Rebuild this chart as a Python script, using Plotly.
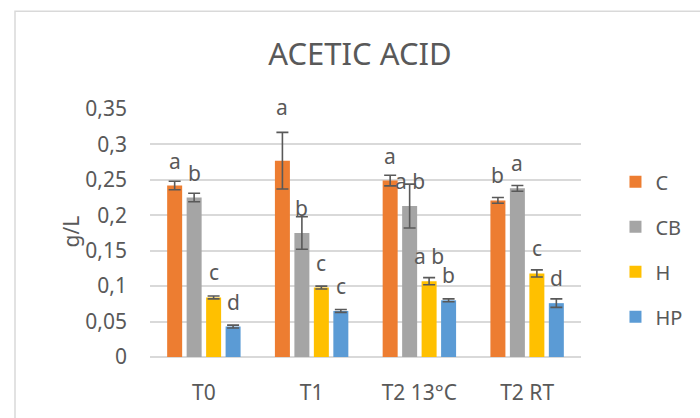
import plotly.graph_objects as go

categories = ["T0", "T1", "T2 13°C", "T2 RT"]
series_names = ["C", "CB", "H", "HP"]

c_vals = [0.242, 0.277, 0.249, 0.221]
cb_vals = [0.225, 0.175, 0.213, 0.238]
h_vals = [0.084, 0.098, 0.107, 0.118]
hp_vals = [0.043, 0.065, 0.080, 0.076]

c_err = [0.006, 0.040, 0.0075, 0.004]
cb_err = [0.006, 0.023, 0.031, 0.004]
h_err = [0.002, 0.002, 0.005, 0.005]
hp_err = [0.002, 0.002, 0.002, 0.006]

c_letters = ["a", "a", "a", "b"]
cb_letters = ["b", "b", "a b", "a"]
h_letters = ["c", "c", "a b", "c"]
hp_letters = ["d", "c", "b", "d"]

y_ticks = [0, 0.05, 0.1, 0.15, 0.2, 0.25, 0.3, 0.35]
y_tick_text = ["0", "0,05", "0,1", "0,15", "0,2", "0,25", "0,3", "0,35"]

colors = ["#ED7D31", "#A5A5A5", "#FFC000", "#5B9BD5"]
TXT = "#595959"
FONT = "Noto Sans"

values = [c_vals, cb_vals, h_vals, hp_vals]
errors = [c_err, cb_err, h_err, hp_err]
letters = [c_letters, cb_letters, h_letters, hp_letters]

W, H = 700, 418
ML, MR, MT, MB = 150, 103, 109, 58
BARGAP = 0.277
BARGROUPGAP = 0.23

fig = go.Figure()
for i, name in enumerate(series_names):
    fig.add_trace(go.Bar(
        name=name, x=categories, y=values[i],
        marker=dict(color=colors[i], line=dict(width=0)),
        error_y=dict(type="data", array=errors[i], color="#595959",
                     thickness=1.6, width=6),
        legendgroup=name,
    ))

# letter annotations placed over each bar
slot = (1 - BARGAP) / len(series_names)
annotations = []
for i in range(len(series_names)):
    off = (i - (len(series_names) - 1) / 2) * slot
    for j in range(len(categories)):
        v = values[i][j]
        e = errors[i][j]
        anchor = v + e if e > 0.035 else v
        annotations.append(dict(
            x=j + off, y=anchor, xref="x", yref="y",
            text=letters[i][j], showarrow=False,
            yshift=25, xanchor="center", yanchor="middle",
            font=dict(family=FONT, size=21, color=TXT),
        ))

pw = W - ML - MR
ph = H - MT - MB

annotations.append(dict(
    text="g/L", textangle=-90, xref="paper", yref="paper",
    x=(68 - ML) / pw, y=(H - MB - 233) / ph,
    showarrow=False, xanchor="center", yanchor="middle",
    font=dict(family=FONT, size=21, color=TXT),
))

shapes = [dict(
    type="rect", xref="paper", yref="paper",
    x0=(10 - ML) / pw, x1=(W + 50 - ML) / pw,
    y0=(H - MB - (H + 50)) / ph, y1=(H - MB - 10) / ph,
    line=dict(color="#D9D9D9", width=1.5), fillcolor="rgba(0,0,0,0)",
    layer="below",
)]

fig.update_layout(
    width=W, height=H,
    margin=dict(l=ML, r=MR, t=MT, b=MB),
    paper_bgcolor="white", plot_bgcolor="white",
    barmode="group", bargap=BARGAP, bargroupgap=BARGROUPGAP,
    title=dict(text="ACETIC ACID", x=360 / W, xanchor="center",
               y=1 - 54 / H, yanchor="middle",
               font=dict(family=FONT, size=31, color=TXT)),
    font=dict(family=FONT, color=TXT),
    showlegend=True,
    legend=dict(x=1.08, y=(H - MB - 163) / ph, xanchor="left", yanchor="top",
                font=dict(family=FONT, size=20, color=TXT),
                tracegroupgap=16, bgcolor="rgba(0,0,0,0)"),
    annotations=annotations,
    shapes=shapes,
)
fig.update_xaxes(
    showgrid=False, showline=False, ticks="", zeroline=False,
    tickfont=dict(family=FONT, size=21, color=TXT),
    ticklabelstandoff=21,
)
fig.update_yaxes(
    range=[0, 0.35], tickvals=y_ticks, ticktext=y_tick_text,
    showgrid=True, gridcolor="#D9D9D9", gridwidth=1.5,
    zeroline=True, zerolinecolor="#D9D9D9", zerolinewidth=1.5,
    showline=False, ticks="",
    tickfont=dict(family=FONT, size=21, color=TXT),
    ticklabelstandoff=22,
)

fig.write_html("out.html", config={"displayModeBar": False},
               post_script="document.body.style.margin='0px';")
